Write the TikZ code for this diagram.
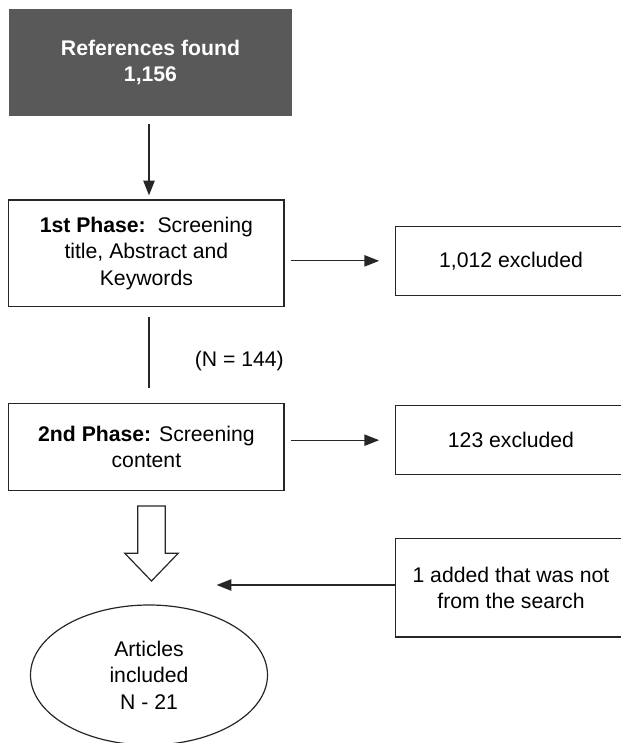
\documentclass[tikz,border=0pt]{standalone}
\usepackage{fontspec}
\setmainfont{Liberation Sans}
\usetikzlibrary{shapes.geometric,arrows.meta,calc}
\definecolor{darkbox}{HTML}{595959}
\definecolor{edgecol}{HTML}{262626}
\begin{document}
\begin{tikzpicture}[x=0.75pt,y=-0.75pt,
  txt/.style={font=\fontsize{15.9pt}{19.8pt}\selectfont, align=center, inner sep=0pt},
  boxst/.style={txt, draw=edgecol, line width=0.9pt, rectangle},
  openbox/.style={txt, rectangle},
  arr/.style={-{Triangle[length=11pt,width=8.5pt]}, line width=0.9pt, draw=edgecol},
  plain/.style={line width=0.9pt, draw=edgecol}]
\useasboundingbox (0,0) rectangle (621,743);
\coordinate (colx) at (149,0);
\coordinate (edge) at (621,0);

\node[txt, fill=darkbox, text=white, minimum width=212.25pt, minimum height=80.25pt] (ref) at (150.5,62.5)
  {\textbf{References found}\\\textbf{1,156}};
\node[boxst, minimum width=206.5pt, minimum height=80pt] (p1) at (146.4,253.3)
  {\textbf{1st Phase:}\ \ Screening\\title, Abstract and\\Keywords};
\node[boxst, minimum width=206.5pt, minimum height=65.5pt] (p2) at (146.4,447)
  {\textbf{2nd Phase:} Screening\\content};
\node[openbox, minimum width=172.5pt, minimum height=51.2pt] (ex1) at (511,260.85) {1,012 excluded};
\node[openbox, minimum width=172.5pt, minimum height=51.2pt] (ex2) at (511,440.15) {123 excluded};
\node[openbox, minimum width=172.5pt, minimum height=73.3pt] (add) at (511,587.85) {1 added that was not\\from the search};
\node[txt, ellipse, draw=edgecol, line width=0.9pt, minimum width=177.75pt, minimum height=105pt] (art) at (149,675)
  {Articles\\included\\N - 21};
\node[txt] (nlab) at (239.3,361) {(N = 144)};

% open-ended boxes on the right (cut by the page edge)
\foreach \b in {ex1,ex2,add}{
  \draw[plain] (\b.north west -| edge) -- (\b.north west) -- (\b.south west) -- (\b.south west -| edge);
}

% connectors
\draw[arr, shorten <=6pt, shorten >=3pt] (ref.south -| colx) -- (p1.north -| colx);
\draw[arr, shorten <=4.5pt, shorten >=12.5pt] (ex1.west -| p1.east) -- (ex1.west);
\draw[plain, shorten <=7pt, shorten >=11.25pt] (p1.south -| colx) -- (p2.north -| colx);
\draw[arr, shorten <=4.5pt, shorten >=12.5pt] (ex2.west -| p2.east) -- (ex2.west);
\coordinate (tip) at (216.6,585);
\draw[arr] (add.west |- tip) -- (tip);

% hollow block arrow
\draw[line width=0.9pt, draw=edgecol, fill=white, line join=miter]
  (137.8,506) -- (165.2,506) -- (165.2,553.3) -- (178.2,553.3) -- (151.5,581)
  -- (124.8,553.3) -- (137.8,553.3) -- cycle;
\end{tikzpicture}
\end{document}
